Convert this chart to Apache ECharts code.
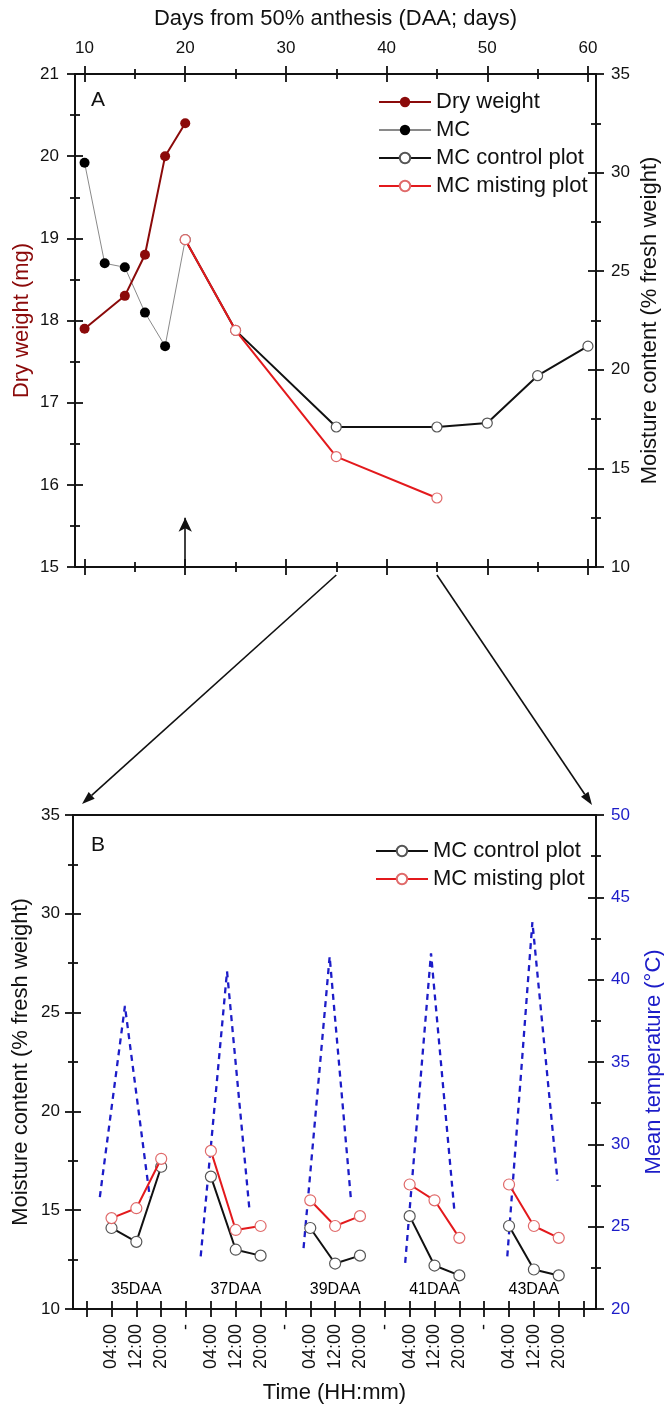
<!DOCTYPE html>
<html>
<head>
<meta charset="utf-8">
<script src="https://cdn.jsdelivr.net/npm/echarts@6/dist/echarts.min.js"></script>
<style>
  html, body { margin: 0; padding: 0; background: #fff; }
  #chart { width: 664px; height: 1405px; }
</style>
</head>
<body>
<div id="chart"></div>
<script>
// ---- Panel A: seed development after 50% anthesis ----
const dryDays = [10, 14, 16, 18, 20];
const dryWeight = [17.9, 18.3, 18.8, 20.0, 20.4];            // mg
const mcDays = [10, 12, 14, 16, 18, 20];
const mcValues = [30.5, 25.4, 25.2, 22.9, 21.2, 26.6];       // % fresh weight
const controlDays = [20, 25, 35, 45, 50, 55, 60];
const controlMC = [26.6, 22.0, 17.1, 17.1, 17.3, 19.7, 21.2];
const mistingDays = [20, 25, 35, 45];
const mistingMC = [26.6, 22.0, 15.6, 13.5];
const daaTicks = [10, 20, 30, 40, 50, 60];
const daaMinorTicks = [15, 25, 35, 45, 55];
const mistingStartDay = 20;       // arrow: misting begins
const mistingArrowTop = 12.5;
const zoomDays = [35, 45];        // sampling window shown in panel B

// ---- Panel B: diurnal sampling, 35-43 DAA ----
const sampleDays = ['35DAA', '37DAA', '39DAA', '41DAA', '43DAA'];
const timeLabels = ['', '04:00', '12:00', '20:00', '-', '04:00', '12:00', '20:00', '-',
  '04:00', '12:00', '20:00', '-', '04:00', '12:00', '20:00', '-', '04:00', '12:00', '20:00', ''];
const samplePos = [[1, 2, 3], [5, 6, 7], [9, 10, 11], [13, 14, 15], [17, 18, 19]];
const controlB = [[14.1, 13.4, 17.2], [16.7, 13.0, 12.7], [14.1, 12.3, 12.7], [14.7, 12.2, 11.7], [14.2, 12.0, 11.7]];
const mistingB = [[14.6, 15.1, 17.6], [18.0, 14.0, 14.2], [15.5, 14.2, 14.7], [16.3, 15.5, 13.6], [16.3, 14.2, 13.6]];
const tempPos = [[0.53, 1.54, 2.54], [4.59, 5.65, 6.56], [8.73, 9.78, 10.64], [12.82, 13.86, 14.81], [16.93, 17.94, 18.95]];
const tempValues = [[26.8, 38.4, 26.8], [23.2, 40.5, 25.9], [23.7, 41.4, 26.6], [22.8, 41.6, 25.8], [23.2, 43.5, 27.8]];

const FONT = '"Liberation Sans", Arial, Helvetica, sans-serif';
const INK = '#111';
const DRY = '#8B0A0A';
const MIST = '#E3191C';
const MIST_EDGE = '#E06A6A';
const TEMP = '#1C1CC8';

const xRangeA = [9.05, 60.8];
const xRangeB = [-0.55, 20.5];
const tickStyle = { color: INK, width: 1.8 };

function line(show) { return { show: show !== false, onZero: false, lineStyle: { color: INK, width: 2 } }; }
function nameStyle(color) { return { fontSize: 22, color: color || INK, fontFamily: FONT }; }
function labelStyle(extra) { return Object.assign({ show: true, fontSize: 17, color: INK, fontFamily: FONT }, extra); }

// A value x-axis drawn twice (outward + inward ticks) so that ticks cross the axis line
function xPair(grid, position, range, values, length, outer) {
  const base = { type: 'value', gridIndex: grid, position: position, min: range[0], max: range[1],
    splitLine: { show: false }, axisLine: line(), nameMoveOverlap: false };
  return [
    Object.assign({}, base, { axisTick: { show: true, customValues: values, length: length, inside: false, lineStyle: tickStyle },
      axisLabel: { show: false } }, outer || {}),
    Object.assign({}, base, { axisTick: { show: true, customValues: values, length: length, inside: true, lineStyle: tickStyle },
      axisLabel: { show: false } })
  ];
}
function yPair(grid, position, min, max, interval, outer) {
  const base = { type: 'value', gridIndex: grid, position: position, min: min, max: max, interval: interval,
    splitLine: { show: false }, axisLine: line(), nameMoveOverlap: false,
    minorTick: { show: true, splitNumber: 2, length: 5, lineStyle: tickStyle } };
  return [
    Object.assign({}, base, { axisTick: { show: true, length: 8, inside: false, lineStyle: tickStyle }, axisLabel: { show: false } }, outer || {}),
    Object.assign({}, base, { axisTick: { show: true, length: 8, inside: true, lineStyle: tickStyle }, axisLabel: { show: false } })
  ];
}

const xAxes = [].concat(
  // 0-3: panel A top (labels + name on 0)
  xPair(0, 'top', xRangeA, daaTicks, 8, {
    axisLabel: labelStyle({ customValues: daaTicks, margin: 17 }),
    name: 'Days from 50% anthesis (DAA; days)', nameLocation: 'middle', nameGap: 44, nameTextStyle: nameStyle()
  }),
  xPair(0, 'top', xRangeA, daaMinorTicks, 5),
  // 4-7: panel A bottom
  xPair(0, 'bottom', xRangeA, daaTicks, 8),
  xPair(0, 'bottom', xRangeA, daaMinorTicks, 5),
  // 8-9: panel B bottom (time of day)
  xPair(1, 'bottom', xRangeB, timeLabels.map((t, i) => i), 8, {
    axisLabel: labelStyle({ customValues: timeLabels.map((t, i) => i).slice(1, -1), rotate: 90, margin: 15, fontSize: 18,
      formatter: v => timeLabels[Math.round(v)] }),
    name: 'Time (HH:mm)', nameLocation: 'middle', nameGap: 73, nameTextStyle: nameStyle()
  }),
  // 10: panel B top frame
  [{ type: 'value', gridIndex: 1, position: 'top', min: xRangeB[0], max: xRangeB[1], splitLine: { show: false },
     axisLine: line(), axisTick: { show: false }, axisLabel: { show: false } }]
);

const yAxes = [].concat(
  // 0-1: dry weight
  yPair(0, 'left', 15, 21, 1, {
    axisLabel: labelStyle({ margin: 16 }),
    name: 'Dry weight (mg)', nameLocation: 'middle', nameGap: 42, nameTextStyle: nameStyle(DRY)
  }),
  // 2-3: moisture content, panel A
  yPair(0, 'right', 10, 35, 5, {
    axisLabel: labelStyle({ margin: 15 }),
    name: 'Moisture content (% fresh weight)', nameLocation: 'middle', nameGap: 43, nameTextStyle: nameStyle()
  }),
  // 4-5: moisture content, panel B
  yPair(1, 'left', 10, 35, 5, {
    axisLabel: labelStyle({ margin: 13 }),
    name: 'Moisture content (% fresh weight)', nameLocation: 'middle', nameGap: 41, nameTextStyle: nameStyle()
  }),
  // 6-7: temperature
  yPair(1, 'right', 20, 50, 5, {
    axisLabel: labelStyle({ margin: 15, color: TEMP }),
    name: 'Mean temperature (\u00B0C)', nameLocation: 'middle', nameGap: 47, nameTextStyle: nameStyle(TEMP)
  })
);

const zip = (xs, ys) => xs.map((x, i) => [x, ys[i]]);
// one continuous array per panel-B series, broken between sampling days
function segmented(pos, vals) {
  const out = [];
  pos.forEach((p, d) => {
    if (d > 0) out.push([p[0] - 1, '-']);
    p.forEach((x, i) => out.push([x, vals[d][i]]));
  });
  return out;
}

const common = { type: 'line', silent: true, animation: false, emphasis: { disabled: true } };
const openCircle = (edge) => ({ color: '#fff', borderColor: edge, borderWidth: 1.2 });

const series = [
  Object.assign({}, common, {
    name: 'MC', xAxisIndex: 0, yAxisIndex: 2, z: 2,
    data: mcDays.map((d, i) => i === mcDays.length - 1 ? { value: [d, mcValues[i]], symbol: 'none' } : [d, mcValues[i]]),
    symbol: 'circle', symbolSize: 10, itemStyle: { color: '#000' }, lineStyle: { color: '#8a8a8a', width: 1 }
  }),
  Object.assign({}, common, {
    name: 'MC control plot', xAxisIndex: 0, yAxisIndex: 2, z: 3,
    data: zip(controlDays, controlMC), symbol: 'circle', symbolSize: 10,
    itemStyle: openCircle('#555'), lineStyle: { color: INK, width: 2 },
    markLine: {
      silent: true, animation: false, symbol: ['none', 'arrow'], symbolSize: [10, 14],
      lineStyle: { color: INK, width: 1.6, type: 'solid' }, label: { show: false }, emphasis: { disabled: true },
      data: [[{ coord: [mistingStartDay, 10] }, { coord: [mistingStartDay, mistingArrowTop] }]]
    }
  }),
  Object.assign({}, common, {
    name: 'MC misting plot', xAxisIndex: 0, yAxisIndex: 2, z: 4,
    data: zip(mistingDays, mistingMC), symbol: 'circle', symbolSize: 10,
    itemStyle: openCircle(MIST_EDGE), lineStyle: { color: MIST, width: 2 }
  }),
  Object.assign({}, common, {
    name: 'Dry weight', xAxisIndex: 0, yAxisIndex: 0, z: 5,
    data: zip(dryDays, dryWeight), symbol: 'circle', symbolSize: 10,
    itemStyle: { color: DRY }, lineStyle: { color: DRY, width: 2 }
  }),
  Object.assign({}, common, {
    name: 'Mean temperature', xAxisIndex: 8, yAxisIndex: 6, z: 2,
    data: segmented(tempPos, tempValues), symbol: 'none', connectNulls: false,
    lineStyle: { color: TEMP, width: 2.3, type: [6, 5] }
  }),
  Object.assign({}, common, {
    name: 'MC control plot', xAxisIndex: 8, yAxisIndex: 4, z: 3,
    data: segmented(samplePos, controlB), symbol: 'circle', symbolSize: 11, connectNulls: false,
    itemStyle: openCircle('#555'), lineStyle: { color: INK, width: 2 }
  }),
  Object.assign({}, common, {
    name: 'MC misting plot', xAxisIndex: 8, yAxisIndex: 4, z: 4,
    data: segmented(samplePos, mistingB), symbol: 'circle', symbolSize: 11, connectNulls: false,
    itemStyle: openCircle(MIST_EDGE), lineStyle: { color: MIST, width: 2 }
  }),
  {
    type: 'scatter', name: 'day', xAxisIndex: 8, yAxisIndex: 4, silent: true, animation: false,
    symbolSize: 1, itemStyle: { color: 'rgba(0,0,0,0)', opacity: 1 },
    data: sampleDays.map((d, i) => ({ name: d, value: [samplePos[i][1], 11.0] })),
    label: { show: true, position: 'inside', formatter: '{b}', fontSize: 16, color: '#000', opacity: 1, fontFamily: FONT }
  }
];

const legendBase = {
  orient: 'vertical', itemWidth: 52, itemHeight: 13, itemGap: 6, padding: 0, selectedMode: false,
  textStyle: { fontSize: 22, color: INK, fontFamily: FONT }
};

const chart = echarts.init(document.getElementById('chart'), null, { renderer: 'canvas' });
chart.setOption({
  backgroundColor: '#fff',
  animation: false,
  textStyle: { fontFamily: FONT },
  grid: [
    { left: 75, right: 68, top: 74, height: 493, outerBoundsMode: 'none' },
    { left: 73, right: 68, top: 815, height: 494, outerBoundsMode: 'none' }
  ],
  legend: [
    Object.assign({}, legendBase, { left: 378, top: 91, data: ['Dry weight', 'MC', 'MC control plot', 'MC misting plot'] }),
    Object.assign({}, legendBase, { left: 375, top: 840, data: ['MC control plot', 'MC misting plot'] })
  ],
  xAxis: xAxes,
  yAxis: yAxes,
  series: series
});

// Panel letters and the arrows linking the 35-45 DAA window to panel B
const pA = (x, y) => chart.convertToPixel({ xAxisIndex: 0, yAxisIndex: 2 }, [x, y]);
const pB = (x, y) => chart.convertToPixel({ xAxisIndex: 8, yAxisIndex: 4 }, [x, y]);

function arrow(from, tip) {
  const dx = tip[0] - from[0], dy = tip[1] - from[1];
  const len = Math.hypot(dx, dy), ux = dx / len, uy = dy / len;
  const L = 13, W = 4.5;
  const base = [tip[0] - ux * L, tip[1] - uy * L];
  return [
    { type: 'line', silent: true, shape: { x1: from[0], y1: from[1], x2: base[0], y2: base[1] }, style: { stroke: INK, lineWidth: 1.6 } },
    { type: 'polygon', silent: true, shape: { points: [tip, [base[0] - uy * W, base[1] + ux * W], [base[0] + uy * W, base[1] - ux * W]] }, style: { fill: INK } }
  ];
}

const a0 = pA(zoomDays[0], 10), a1 = pA(zoomDays[1], 10);
const bTL = pB(xRangeB[0], 35), bTR = pB(xRangeB[1], 35);
const cornerA = pA(xRangeA[0], 35);

chart.setOption({
  graphic: [].concat(
    arrow([a0[0], a0[1] + 8], [bTL[0] + 9, bTL[1] - 11]),
    arrow([a1[0], a1[1] + 8], [bTR[0] - 4, bTR[1] - 10]),
    [
      { type: 'text', silent: true, x: cornerA[0] + 16, y: cornerA[1] + 26,
        style: { text: 'A', fontSize: 21, fill: INK, fontFamily: FONT, verticalAlign: 'middle' } },
      { type: 'text', silent: true, x: bTL[0] + 18, y: bTL[1] + 30,
        style: { text: 'B', fontSize: 21, fill: INK, fontFamily: FONT, verticalAlign: 'middle' } }
    ]
  )
});
</script>
</body>
</html>
